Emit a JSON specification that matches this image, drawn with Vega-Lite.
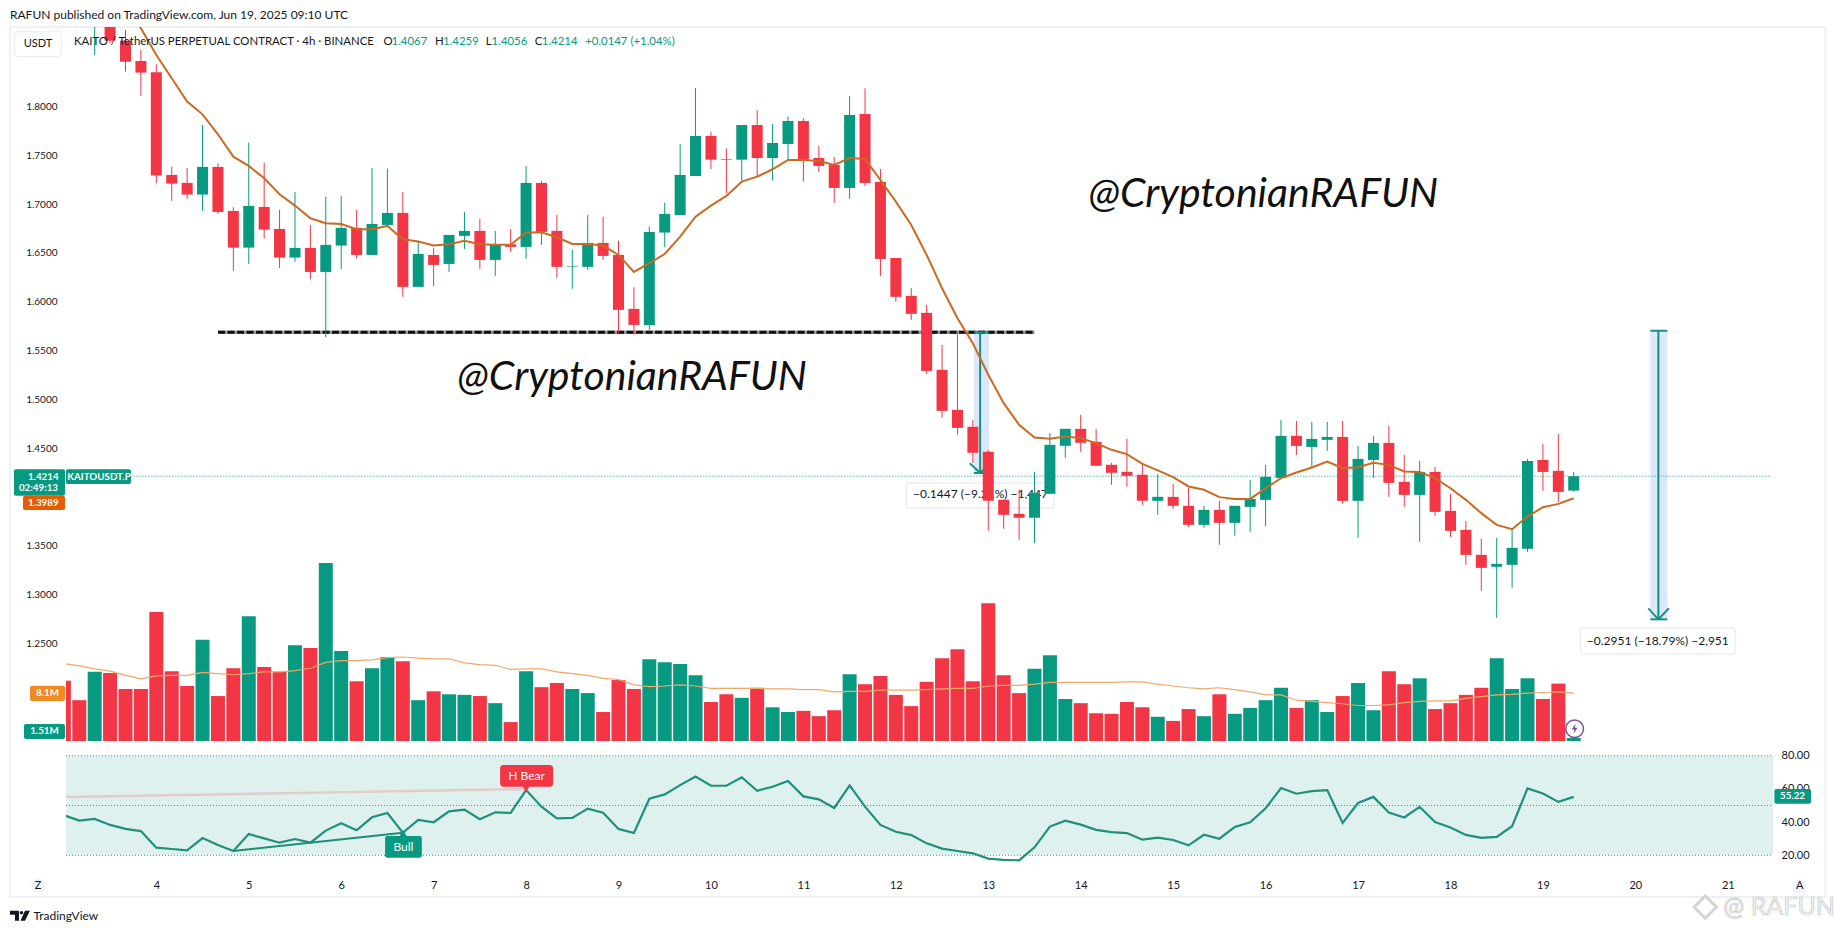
{
"$schema":"https://vega.github.io/schema/vega-lite/v6.json",
"width":1707,"height":870,
"autosize":{"type":"none"},
"padding":{"left":66,"top":27,"right":62,"bottom":36},
"background":"#ffffff",
"config":{"view":{"stroke":null},"font":"Lato","text":{"font":"Lato"}},
"data":{"name":"bars"},
"datasets":{"bars":[
{"day":3,"open":1.97,"high":1.98,"low":1.94,"close":1.95,"vol":10.2,"volma":13.1,"rsi":44.1,"ema":2.02},
{"day":3.1667,"open":1.95,"high":1.96,"low":1.92,"close":1.925,"vol":6.9,"volma":12.7,"rsi":40.9,"ema":1.99},
{"day":3.3333,"open":1.885,"high":1.93,"low":1.8525,"close":1.91,"vol":11.7,"volma":12.2,"rsi":41.9,"ema":1.96},
{"day":3.5,"open":1.905,"high":1.92,"low":1.865,"close":1.8672,"vol":11.5,"volma":11.8,"rsi":38.3,"ema":1.935},
{"day":3.6667,"open":1.8672,"high":1.8781,"low":1.8355,"close":1.8457,"vol":8.8,"volma":11.1,"rsi":35.9,"ema":1.905},
{"day":3.8333,"open":1.8464,"high":1.8576,"low":1.8109,"close":1.8345,"vol":8.8,"volma":10.5,"rsi":34.6,"ema":1.8798},
{"day":4,"open":1.8348,"high":1.843,"low":1.7212,"close":1.7291,"vol":21.8,"volma":11.0,"rsi":24.6,"ema":1.8525},
{"day":4.1667,"open":1.7298,"high":1.7383,"low":1.7032,"close":1.7209,"vol":11.8,"volma":11.1,"rsi":23.8,"ema":1.8287},
{"day":4.3333,"open":1.7216,"high":1.7369,"low":1.7052,"close":1.7097,"vol":9.3,"volma":11.1,"rsi":23.0,"ema":1.8048},
{"day":4.5,"open":1.7097,"high":1.7809,"low":1.6929,"close":1.738,"vol":17.1,"volma":11.6,"rsi":30.4,"ema":1.7918},
{"day":4.6667,"open":1.738,"high":1.7417,"low":1.6899,"close":1.6919,"vol":7.6,"volma":11.4,"rsi":26.2,"ema":1.7714},
{"day":4.8333,"open":1.6929,"high":1.6967,"low":1.6316,"close":1.6554,"vol":12.3,"volma":11.2,"rsi":22.6,"ema":1.7485},
{"day":5,"open":1.6554,"high":1.7629,"low":1.6387,"close":1.6981,"vol":21.1,"volma":11.4,"rsi":32.8,"ema":1.739},
{"day":5.1667,"open":1.697,"high":1.7424,"low":1.6646,"close":1.6738,"vol":12.5,"volma":11.7,"rsi":30.2,"ema":1.7264},
{"day":5.3333,"open":1.6745,"high":1.694,"low":1.6346,"close":1.6452,"vol":11.7,"volma":11.7,"rsi":27.6,"ema":1.71},
{"day":5.5,"open":1.6452,"high":1.7124,"low":1.6408,"close":1.6551,"vol":16.2,"volma":11.9,"rsi":29.8,"ema":1.6984},
{"day":5.6667,"open":1.6551,"high":1.6786,"low":1.623,"close":1.6305,"vol":15.7,"volma":12.3,"rsi":27.6,"ema":1.6854},
{"day":5.8333,"open":1.6305,"high":1.7076,"low":1.5634,"close":1.6582,"vol":30.1,"volma":13.3,"rsi":34.9,"ema":1.6803},
{"day":6,"open":1.6575,"high":1.7086,"low":1.6333,"close":1.6756,"vol":15.2,"volma":13.6,"rsi":39.3,"ema":1.6796},
{"day":6.1667,"open":1.6756,"high":1.694,"low":1.6445,"close":1.6479,"vol":10.1,"volma":13.6,"rsi":35.1,"ema":1.6742},
{"day":6.3333,"open":1.6479,"high":1.7369,"low":1.6479,"close":1.6796,"vol":12.3,"volma":13.7,"rsi":42.9,"ema":1.6742},
{"day":6.5,"open":1.6786,"high":1.7363,"low":1.6786,"close":1.6909,"vol":14.2,"volma":14.1,"rsi":45.5,"ema":1.6776},
{"day":6.6667,"open":1.6909,"high":1.7124,"low":1.605,"close":1.6152,"vol":13.5,"volma":14.2,"rsi":33.6,"ema":1.664},
{"day":6.8333,"open":1.6152,"high":1.6616,"low":1.6152,"close":1.649,"vol":6.9,"volma":14.0,"rsi":41.3,"ema":1.6616},
{"day":7,"open":1.6479,"high":1.6548,"low":1.6162,"close":1.6377,"vol":8.4,"volma":13.9,"rsi":39.9,"ema":1.6575},
{"day":7.1667,"open":1.6387,"high":1.6684,"low":1.6305,"close":1.6684,"vol":7.9,"volma":13.9,"rsi":46.5,"ema":1.6588},
{"day":7.3333,"open":1.6674,"high":1.6919,"low":1.6541,"close":1.6725,"vol":7.8,"volma":13.2,"rsi":47.5,"ema":1.6623},
{"day":7.5,"open":1.6725,"high":1.6848,"low":1.6336,"close":1.6428,"vol":7.6,"volma":12.9,"rsi":41.7,"ema":1.6588},
{"day":7.6667,"open":1.6428,"high":1.6725,"low":1.6264,"close":1.6588,"vol":6.4,"volma":12.8,"rsi":45.9,"ema":1.6582},
{"day":7.8333,"open":1.6588,"high":1.6745,"low":1.651,"close":1.6561,"vol":3.2,"volma":12.1,"rsi":45.5,"ema":1.6582},
{"day":8,"open":1.6561,"high":1.739,"low":1.6438,"close":1.7216,"vol":11.8,"volma":12.2,"rsi":59.3,"ema":1.6708},
{"day":8.1667,"open":1.7216,"high":1.7236,"low":1.6582,"close":1.6715,"vol":9.1,"volma":12.2,"rsi":49.3,"ema":1.6711},
{"day":8.3333,"open":1.6725,"high":1.6888,"low":1.6244,"close":1.6357,"vol":9.8,"volma":11.7,"rsi":42.3,"ema":1.666},
{"day":8.5,"open":1.636,"high":1.653,"low":1.6132,"close":1.6366,"vol":8.8,"volma":11.4,"rsi":42.5,"ema":1.6592},
{"day":8.6667,"open":1.6357,"high":1.6888,"low":1.6326,"close":1.6602,"vol":8.1,"volma":11.1,"rsi":48.1,"ema":1.6592},
{"day":8.8333,"open":1.6602,"high":1.6871,"low":1.6428,"close":1.6469,"vol":4.9,"volma":10.6,"rsi":45.7,"ema":1.6575},
{"day":9,"open":1.6479,"high":1.6626,"low":1.5678,"close":1.5917,"vol":10.3,"volma":10.4,"rsi":35.9,"ema":1.6479},
{"day":9.1667,"open":1.5927,"high":1.6148,"low":1.5661,"close":1.5763,"vol":8.8,"volma":9.5,"rsi":33.4,"ema":1.6305},
{"day":9.3333,"open":1.5763,"high":1.6769,"low":1.5712,"close":1.6714,"vol":13.8,"volma":9.2,"rsi":54.1,"ema":1.6394},
{"day":9.5,"open":1.6708,"high":1.7015,"low":1.6558,"close":1.6899,"vol":13.3,"volma":9.3,"rsi":56.7,"ema":1.6489},
{"day":9.6667,"open":1.6888,"high":1.7615,"low":1.6888,"close":1.7298,"vol":13.0,"volma":9.5,"rsi":62.3,"ema":1.6667},
{"day":9.8333,"open":1.7287,"high":1.8188,"low":1.7287,"close":1.7697,"vol":11.1,"volma":9.3,"rsi":67.4,"ema":1.6871},
{"day":10,"open":1.7697,"high":1.7741,"low":1.7359,"close":1.7454,"vol":6.6,"volma":8.9,"rsi":61.9,"ema":1.6984},
{"day":10.1667,"open":1.7461,"high":1.757,"low":1.711,"close":1.7454,"vol":7.9,"volma":8.9,"rsi":61.9,"ema":1.7083},
{"day":10.3333,"open":1.7454,"high":1.7809,"low":1.724,"close":1.7809,"vol":7.3,"volma":8.9,"rsi":67.0,"ema":1.7229},
{"day":10.5,"open":1.7809,"high":1.7962,"low":1.7287,"close":1.7471,"vol":9.0,"volma":8.9,"rsi":58.9,"ema":1.7281},
{"day":10.6667,"open":1.7471,"high":1.7819,"low":1.724,"close":1.7625,"vol":5.7,"volma":8.8,"rsi":61.3,"ema":1.7356},
{"day":10.8333,"open":1.7615,"high":1.7894,"low":1.7451,"close":1.785,"vol":4.9,"volma":8.8,"rsi":64.8,"ema":1.7451},
{"day":11,"open":1.785,"high":1.7877,"low":1.7229,"close":1.7454,"vol":5.1,"volma":8.7,"rsi":55.5,"ema":1.7451},
{"day":11.1667,"open":1.7471,"high":1.7594,"low":1.7328,"close":1.739,"vol":4.2,"volma":8.7,"rsi":53.7,"ema":1.7441},
{"day":11.3333,"open":1.74,"high":1.7482,"low":1.7011,"close":1.7165,"vol":5.2,"volma":8.3,"rsi":48.5,"ema":1.74},
{"day":11.5,"open":1.7165,"high":1.8106,"low":1.7052,"close":1.7911,"vol":11.3,"volma":8.4,"rsi":62.1,"ema":1.7471},
{"day":11.6667,"open":1.7922,"high":1.8184,"low":1.7185,"close":1.7216,"vol":9.6,"volma":8.4,"rsi":49.3,"ema":1.7461},
{"day":11.8333,"open":1.7226,"high":1.7359,"low":1.6264,"close":1.6438,"vol":11.0,"volma":8.6,"rsi":38.3,"ema":1.7246},
{"day":12,"open":1.6448,"high":1.6448,"low":1.5998,"close":1.605,"vol":7.8,"volma":8.6,"rsi":34.2,"ema":1.7025},
{"day":12.1667,"open":1.606,"high":1.6142,"low":1.5814,"close":1.5876,"vol":5.9,"volma":8.6,"rsi":32.2,"ema":1.6786},
{"day":12.3333,"open":1.5886,"high":1.5968,"low":1.5262,"close":1.5292,"vol":10.0,"volma":8.7,"rsi":27.2,"ema":1.6479},
{"day":12.5,"open":1.5303,"high":1.5558,"low":1.4812,"close":1.4883,"vol":14.0,"volma":8.8,"rsi":24.0,"ema":1.6138},
{"day":12.6667,"open":1.4893,"high":1.5678,"low":1.4638,"close":1.4709,"vol":15.5,"volma":8.9,"rsi":22.6,"ema":1.5831},
{"day":12.8333,"open":1.472,"high":1.4791,"low":1.4348,"close":1.4454,"vol":10.1,"volma":8.9,"rsi":21.2,"ema":1.5575},
{"day":13,"open":1.4464,"high":1.4484,"low":1.3656,"close":1.3963,"vol":23.3,"volma":9.3,"rsi":18.0,"ema":1.5252},
{"day":13.1667,"open":1.3973,"high":1.3973,"low":1.3676,"close":1.3819,"vol":11.1,"volma":9.4,"rsi":17.2,"ema":1.4962},
{"day":13.3333,"open":1.383,"high":1.4075,"low":1.3564,"close":1.3789,"vol":8.1,"volma":9.4,"rsi":17.0,"ema":1.474},
{"day":13.5,"open":1.3789,"high":1.4259,"low":1.3533,"close":1.4044,"vol":12.2,"volma":9.6,"rsi":24.8,"ema":1.461},
{"day":13.6667,"open":1.4034,"high":1.4655,"low":1.4034,"close":1.4535,"vol":14.5,"volma":9.9,"rsi":37.3,"ema":1.4597},
{"day":13.8333,"open":1.4525,"high":1.4699,"low":1.4403,"close":1.4699,"vol":7.1,"volma":9.9,"rsi":40.9,"ema":1.4621},
{"day":14,"open":1.4699,"high":1.4842,"low":1.4464,"close":1.4556,"vol":6.4,"volma":9.9,"rsi":38.5,"ema":1.4604},
{"day":14.1667,"open":1.4566,"high":1.4699,"low":1.4321,"close":1.4321,"vol":4.7,"volma":9.9,"rsi":35.3,"ema":1.4553},
{"day":14.3333,"open":1.4331,"high":1.4351,"low":1.4126,"close":1.4249,"vol":4.6,"volma":9.9,"rsi":34.0,"ema":1.4484},
{"day":14.5,"open":1.4259,"high":1.4597,"low":1.4106,"close":1.4218,"vol":6.6,"volma":10.0,"rsi":33.4,"ema":1.444},
{"day":14.6667,"open":1.4229,"high":1.4351,"low":1.3922,"close":1.3963,"vol":5.7,"volma":10.0,"rsi":29.4,"ema":1.4341},
{"day":14.8333,"open":1.3962,"high":1.4238,"low":1.3819,"close":1.4003,"vol":4.1,"volma":9.6,"rsi":30.6,"ema":1.4273},
{"day":15,"open":1.4003,"high":1.4136,"low":1.388,"close":1.3911,"vol":3.4,"volma":9.3,"rsi":29.2,"ema":1.4205},
{"day":15.1667,"open":1.3911,"high":1.4095,"low":1.3696,"close":1.3716,"vol":5.4,"volma":9.0,"rsi":26.0,"ema":1.4109},
{"day":15.3333,"open":1.3716,"high":1.3911,"low":1.3686,"close":1.387,"vol":4.2,"volma":8.8,"rsi":32.4,"ema":1.4075},
{"day":15.5,"open":1.387,"high":1.3962,"low":1.3512,"close":1.3737,"vol":7.9,"volma":9.0,"rsi":30.0,"ema":1.4},
{"day":15.6667,"open":1.3737,"high":1.3911,"low":1.3604,"close":1.3911,"vol":4.6,"volma":8.7,"rsi":37.1,"ema":1.3982},
{"day":15.8333,"open":1.39,"high":1.4177,"low":1.3645,"close":1.3982,"vol":5.6,"volma":8.3,"rsi":39.9,"ema":1.3982},
{"day":16,"open":1.3972,"high":1.433,"low":1.3706,"close":1.4207,"vol":6.9,"volma":7.8,"rsi":48.3,"ema":1.4091},
{"day":16.1667,"open":1.4197,"high":1.479,"low":1.4197,"close":1.4627,"vol":9.0,"volma":7.8,"rsi":60.5,"ema":1.4194},
{"day":16.3333,"open":1.4627,"high":1.478,"low":1.4432,"close":1.4524,"vol":5.6,"volma":6.9,"rsi":57.1,"ema":1.4252},
{"day":16.5,"open":1.4514,"high":1.477,"low":1.4299,"close":1.4596,"vol":6.9,"volma":6.7,"rsi":58.7,"ema":1.4303},
{"day":16.6667,"open":1.4586,"high":1.477,"low":1.4473,"close":1.4616,"vol":4.9,"volma":6.5,"rsi":59.3,"ema":1.4364},
{"day":16.8333,"open":1.4616,"high":1.478,"low":1.3931,"close":1.3962,"vol":7.6,"volma":6.3,"rsi":39.5,"ema":1.4296},
{"day":17,"open":1.3962,"high":1.4524,"low":1.3583,"close":1.4391,"vol":9.8,"volma":6.0,"rsi":51.5,"ema":1.4306},
{"day":17.1667,"open":1.4381,"high":1.4627,"low":1.4197,"close":1.4555,"vol":5.2,"volma":6.0,"rsi":55.2,"ema":1.4351},
{"day":17.3333,"open":1.4555,"high":1.4729,"low":1.4003,"close":1.4146,"vol":11.8,"volma":6.1,"rsi":45.8,"ema":1.433},
{"day":17.5,"open":1.4156,"high":1.4432,"low":1.39,"close":1.4023,"vol":9.6,"volma":6.5,"rsi":42.8,"ema":1.4262},
{"day":17.6667,"open":1.4023,"high":1.4371,"low":1.3542,"close":1.4258,"vol":10.6,"volma":6.7,"rsi":49.2,"ema":1.4258},
{"day":17.8333,"open":1.4258,"high":1.431,"low":1.3808,"close":1.3849,"vol":5.4,"volma":6.8,"rsi":40.1,"ema":1.4194},
{"day":18,"open":1.3859,"high":1.4033,"low":1.3594,"close":1.3655,"vol":6.4,"volma":6.8,"rsi":36.7,"ema":1.4091},
{"day":18.1667,"open":1.3665,"high":1.3757,"low":1.3307,"close":1.3409,"vol":7.8,"volma":7.2,"rsi":32.3,"ema":1.3972},
{"day":18.3333,"open":1.3409,"high":1.3573,"low":1.3041,"close":1.3276,"vol":9.0,"volma":7.5,"rsi":30.5,"ema":1.3836},
{"day":18.5,"open":1.3287,"high":1.3583,"low":1.2765,"close":1.3317,"vol":14.0,"volma":7.8,"rsi":31.1,"ema":1.3716},
{"day":18.6667,"open":1.3307,"high":1.3665,"low":1.3072,"close":1.3481,"vol":8.8,"volma":7.9,"rsi":37.5,"ema":1.3672},
{"day":18.8333,"open":1.3471,"high":1.4391,"low":1.344,"close":1.4371,"vol":10.6,"volma":8.1,"rsi":60.3,"ema":1.3801},
{"day":19,"open":1.4381,"high":1.4545,"low":1.4064,"close":1.4258,"vol":7.1,"volma":8.2,"rsi":57.2,"ema":1.3897},
{"day":19.1667,"open":1.4269,"high":1.4647,"low":1.3951,"close":1.4054,"vol":9.7,"volma":8.3,"rsi":52.2,"ema":1.3931},
{"day":19.3333,"open":1.4067,"high":1.4259,"low":1.4056,"close":1.4214,"vol":0.5,"volma":8.1,"rsi":55.22,"ema":1.3989}
]},
"encoding":{"x":{"field":"day","type":"quantitative","scale":{"domain":[3.023,21.489],"nice":false,"zero":false,"padding":0},
"axis":{"values":[4,5,6,7,8,9,10,11,12,13,14,15,16,17,18,19,20,21],"format":"d","title":null,"grid":false,"domain":false,"ticks":false,"labelPadding":-18,"labelFontSize":11,"labelColor":"#131722","labelFont":"Lato"}}},
"resolve":{"scale":{"y":"independent"},"axis":{"y":"independent"}},
"layer":[
{"encoding":{"y":{"field":"price","type":"quantitative","scale":{"domain":[0.9907,1.8812],"nice":false,"zero":false},
"axis":{"orient":"left","values":[1.25,1.3,1.35,1.45,1.5,1.55,1.6,1.65,1.7,1.75,1.8],"format":".4f","title":null,"grid":false,"domain":false,"ticks":false,"labelPadding":9,"labelFontSize":10,"labelColor":"#131722","labelFont":"Lato"}}},
"layer":[
{"data":{"values":[{"day":2.417,"day2":22.056,"price":1.8812,"price2":0.9907}]},"mark":{"type":"rect","fillOpacity":0,"stroke":"#eef0f3","strokeWidth":2},"encoding":{"x2":{"field":"day2"},"y2":{"field":"price2"}}},
{"data":{"values":[{"day":12.845,"day2":13.007,"price":1.5686,"price2":1.4247},{"day":20.162,"day2":20.346,"price":1.5703,"price2":1.2749}]},"mark":{"type":"rect","fill":"#dbe7fb"},"encoding":{"x2":{"field":"day2"},"y2":{"field":"price2"}}},
{"data":{"values":[{"day":12.112,"day2":13.709,"price":1.4144,"price2":1.3888},{"day":19.405,"day2":21.082,"price":1.266,"price2":1.2394}]},"mark":{"type":"rect","fill":"#ffffff","stroke":"#eceef2","strokeWidth":1.5,"cornerRadius":3},"encoding":{"x2":{"field":"day2"},"y2":{"field":"price2"}}},
{"data":{"values":[{"day":12.917,"price":1.4029,"text":"−0.1447 (−9.21%) −1,447"},{"day":20.243,"price":1.2527,"text":"−0.2951 (−18.79%) −2,951"}]},"mark":{"type":"text","align":"center","baseline":"middle","fontSize":12,"color":"#131722"},"encoding":{"text":{"field":"text"}}},
{"data":{"values":[{"day":3.72,"day2":21.46,"price":1.4214}]},"mark":{"type":"rule","color":"#089981","strokeWidth":1,"strokeDash":[1,2]},"encoding":{"x2":{"field":"day2"}}},
{"data":{"values":[{"day":4.668,"day2":13.5,"price":1.5688}]},"mark":{"type":"rule","color":"#999999","strokeWidth":3.5},"encoding":{"x2":{"field":"day2"}}},
{"data":{"values":[{"day":4.668,"day2":13.5,"price":1.5688}]},"mark":{"type":"rule","color":"#111111","strokeWidth":3,"strokeDash":[7,2.5]},"encoding":{"x2":{"field":"day2"}}},
{"data":{"values":[
{"day":12.912,"day2":12.912,"price":1.5686,"price2":1.4247},
{"day":12.845,"day2":13.007,"price":1.5686,"price2":1.5686},
{"day":12.845,"day2":13.007,"price":1.4247,"price2":1.4247},
{"day":12.8,"day2":12.912,"price":1.4346,"price2":1.4247},
{"day":13.02,"day2":12.912,"price":1.4346,"price2":1.4247},
{"day":20.249,"day2":20.249,"price":1.5703,"price2":1.2749},
{"day":20.162,"day2":20.346,"price":1.5703,"price2":1.5703},
{"day":20.162,"day2":20.346,"price":1.2749,"price2":1.2749},
{"day":20.14,"day2":20.249,"price":1.2862,"price2":1.2749},
{"day":20.363,"day2":20.249,"price":1.2862,"price2":1.2749}
]},"mark":{"type":"rule","color":"#17917a","strokeWidth":2},"encoding":{"x2":{"field":"day2"},"y2":{"field":"price2"}}}
]},
{"encoding":{"y":{"field":"vol","type":"quantitative","scale":{"domain":[-26.36,120.67],"nice":false,"zero":false},"axis":null}},
"layer":[
{"mark":{"type":"bar","orient":"vertical","size":14,"clip":true},"encoding":{"y2":{"datum":0},"color":{"condition":{"test":"datum.close>=datum.open","value":"#089981"},"value":"#f23645"}}},
{"mark":{"type":"line","color":"#f0a868","strokeWidth":1.2,"clip":true},"encoding":{"y":{"field":"volma","type":"quantitative","scale":{"domain":[-26.36,120.67],"nice":false,"zero":false},"axis":null}}}
]},
{"encoding":{"y":{"field":"rsi","type":"quantitative","scale":{"domain":[-5.12,519],"nice":false,"zero":false},
"axis":{"orient":"right","values":[20,40,60,80],"format":".2f","title":null,"grid":false,"domain":false,"ticks":false,"labelPadding":8,"labelFontSize":11,"labelColor":"#131722","labelFont":"Lato"}}},
"layer":[
{"data":{"values":[{"day":3.023,"day2":21.489,"rsi":80,"rsi2":20}]},"mark":{"type":"rect","fill":"#dff1ee"},"encoding":{"x2":{"field":"day2"},"y2":{"field":"rsi2"}}},
{"data":{"values":[{"day":3.023,"day2":21.489,"rsi":80},{"day":3.023,"day2":21.489,"rsi":50},{"day":3.023,"day2":21.489,"rsi":20}]},"mark":{"type":"rule","color":"#787b86","strokeWidth":1,"strokeDash":[1,2]},"encoding":{"x2":{"field":"day2"}}},
{"data":{"values":[{"day":3.023,"day2":8,"rsi":55.1,"rsi2":59.9}]},"mark":{"type":"rule","color":"#e2cccf","strokeWidth":2.5},"encoding":{"x2":{"field":"day2"},"y2":{"field":"rsi2"}}},
{"data":{"values":[{"day":4.8333,"day2":6.6667,"rsi":22.6,"rsi2":33.6}]},"mark":{"type":"rule","color":"#1b8f78","strokeWidth":2},"encoding":{"x2":{"field":"day2"},"y2":{"field":"rsi2"}}},
{"mark":{"type":"line","color":"#1f9079","strokeWidth":2.2,"clip":true}}
]},
{"layer":[
{"mark":{"type":"rule","strokeWidth":1,"clip":true},"encoding":{"y":{"field":"high","type":"quantitative","scale":{"domain":[0.9907,1.8812],"nice":false,"zero":false},"axis":null},"y2":{"field":"low"},"color":{"condition":{"test":"datum.close>=datum.open","value":"#089981"},"value":"#f23645"}}},
{"mark":{"type":"bar","orient":"vertical","size":11,"clip":true},"encoding":{"y":{"field":"open","type":"quantitative","scale":{"domain":[0.9907,1.8812],"nice":false,"zero":false},"axis":null},"y2":{"field":"close"},"color":{"condition":{"test":"datum.close>=datum.open","value":"#089981"},"value":"#f23645"}}},
{"mark":{"type":"line","color":"#cc6a24","strokeWidth":2,"clip":true},"encoding":{"y":{"field":"ema","type":"quantitative","scale":{"domain":[0.9907,1.8812],"nice":false,"zero":false},"axis":null}}}
]},
{"encoding":{"y":{"field":"price","type":"quantitative","scale":{"domain":[0.9907,1.8812],"nice":false,"zero":false},"axis":null}},
"layer":[
{"data":{"values":[{"day":2.467,"day2":2.972,"price":1.8764,"price2":1.8508}]},"mark":{"type":"rect","fill":"#ffffff","stroke":"#e8eaf0","strokeWidth":1,"cornerRadius":3},"encoding":{"x2":{"field":"day2"},"y2":{"field":"price2"}}},
{"data":{"values":[{"day":2.72,"price":1.0022},{"day":21.777,"price":1.0019}]},"mark":{"type":"point","shape":"circle","filled":true,"fill":"#f0f3fa","size":190,"opacity":1}},
{"data":{"values":[{"day":2.72,"price":1.8635,"text":"USDT"},{"day":2.72,"price":1.0022,"text":"Z"},{"day":21.777,"price":1.0019,"text":"A"}]},"mark":{"type":"text","align":"center","baseline":"middle","fontSize":11,"color":"#131722"},"encoding":{"text":{"field":"text"}}},
{"data":{"values":[
{"day":2.417,"price":1.8938,"text":"RAFUN published on TradingView.com, Jun 19, 2025 09:10 UTC"},
{"day":2.671,"price":0.9716,"text":"TradingView"}
]},"mark":{"type":"text","align":"left","baseline":"middle","fontSize":12,"color":"#131722"},"encoding":{"text":{"field":"text"}}},
{"data":{"values":[
{"day":3.109,"price":1.8661,"text":"KAITO / TetherUS PERPETUAL CONTRACT · 4h · BINANCE"},
{"day":6.458,"price":1.8661,"text":"O"},{"day":7.016,"price":1.8661,"text":"H"},{"day":7.563,"price":1.8661,"text":"L"},{"day":8.093,"price":1.8661,"text":"C"}
]},"mark":{"type":"text","align":"left","baseline":"middle","fontSize":11.4,"color":"#131722"},"encoding":{"text":{"field":"text"}}},
{"data":{"values":[
{"day":6.545,"price":1.8661,"text":"1.4067"},{"day":7.102,"price":1.8661,"text":"1.4259"},{"day":7.627,"price":1.8661,"text":"1.4056"},{"day":8.17,"price":1.8661,"text":"1.4214"},{"day":8.639,"price":1.8661,"text":"+0.0147 (+1.04%)"}
]},"mark":{"type":"text","align":"left","baseline":"middle","fontSize":11.4,"color":"#089981"},"encoding":{"text":{"field":"text"}}},
{"data":{"values":[{"day":2.525,"price":0.9716}]},"mark":{"type":"point","shape":"M-1,-.5 L-.1,-.5 L-.1,.5 L-.5,.5 L-.5,-.1 L-1,-.1 Z M-.02,-.3 a.17,.17 0 1,0 .34,0 a.17,.17 0 1,0 -.34,0 Z M.5,-.5 L1,-.5 L.5,.5 L.05,.5 Z","filled":true,"fill":"#131722","size":400,"opacity":1}},
{"data":{"values":[{"day":9.147,"price":1.5219},{"day":15.975,"price":1.7092}]},"mark":{"type":"text","align":"center","baseline":"middle","fontSize":41,"fontStyle":"italic","font":"Lato","color":"#111111","text":"@CryptonianRAFUN"}},
{"data":{"values":[{"day":2.46,"day2":3.012,"price":1.4285,"price2":1.4014},{"day":3.023,"day2":3.726,"price":1.4285,"price2":1.4134},{"day":2.568,"day2":3.012,"price":1.1678,"price2":1.1524},{"day":21.504,"day2":21.901,"price":1.1012,"price2":1.0862},{"day":6.475,"day2":6.872,"price":1.0531,"price2":1.0309}]},"mark":{"type":"rect","fill":"#089981","cornerRadius":2},"encoding":{"x2":{"field":"day2"},"y2":{"field":"price2"}}},
{"data":{"values":[{"day":2.558,"day2":3.012,"price":1.4014,"price2":1.3868}]},"mark":{"type":"rect","fill":"#e65c00","cornerRadius":2},"encoding":{"x2":{"field":"day2"},"y2":{"field":"price2"}}},
{"data":{"values":[{"day":2.633,"day2":3.012,"price":1.207,"price2":1.1913}]},"mark":{"type":"rect","fill":"#f08a24","cornerRadius":2},"encoding":{"x2":{"field":"day2"},"y2":{"field":"price2"}}},
{"data":{"values":[{"day":7.719,"day2":8.292,"price":1.1258,"price2":1.1036}]},"mark":{"type":"rect","fill":"#f23645","cornerRadius":3},"encoding":{"x2":{"field":"day2"},"y2":{"field":"price2"}}},
{"data":{"values":[{"day":8.0,"price":1.1012}]},"mark":{"type":"point","shape":"triangle-down","filled":true,"fill":"#f23645","size":50,"opacity":1}},
{"data":{"values":[{"day":6.67,"price":1.0562}]},"mark":{"type":"point","shape":"triangle-up","filled":true,"fill":"#089981","size":50,"opacity":1}},
{"data":{"values":[
{"day":2.777,"price":1.4209,"text":"1.4214"},{"day":2.725,"price":1.409,"text":"02:49:13"},{"day":2.777,"price":1.3943,"text":"1.3989"},{"day":3.38,"price":1.4209,"text":"KAITOUSDT.P"},
{"day":2.823,"price":1.1992,"text":"8.1M"},{"day":2.79,"price":1.1601,"text":"1.51M"},{"day":21.7,"price":1.0937,"text":"55.22"}
]},"mark":{"type":"text","align":"center","baseline":"middle","fontSize":9.8,"fontWeight":"bold","color":"#ffffff"},"encoding":{"text":{"field":"text"}}},
{"data":{"values":[{"day":8.005,"price":1.1147,"text":"H Bear"},{"day":6.673,"price":1.042,"text":"Bull"}]},"mark":{"type":"text","align":"center","baseline":"middle","fontSize":12,"color":"#ffffff"},"encoding":{"text":{"field":"text"}}},
{"data":{"values":[{"day":19.343,"price":1.1629}]},"mark":{"type":"point","shape":"circle","filled":true,"fill":"#ffffff","stroke":"#7b4f91","strokeWidth":1.5,"size":314,"opacity":1}},
{"data":{"values":[{"day":19.343,"price":1.1629}]},"mark":{"type":"point","shape":"M.2,-1 L-.6,.15 L-.05,.15 L-.25,1 L.6,-.2 L.05,-.2 Z","filled":true,"fill":"#7b4f91","size":100,"opacity":1}},
{"data":{"values":[{"day":20.756,"price":0.9804}]},"mark":{"type":"point","shape":"diamond","filled":false,"stroke":"#d4d4d4","strokeWidth":3,"size":500,"opacity":1}},
{"data":{"values":[{"day":20.952,"price":0.9804,"text":"@ RAFUN"}]},"mark":{"type":"text","align":"left","baseline":"middle","fontSize":25,"color":"#f4f4f4","stroke":"#c8c8c8","strokeWidth":0.7},"encoding":{"text":{"field":"text"}}}
]}
]
}
